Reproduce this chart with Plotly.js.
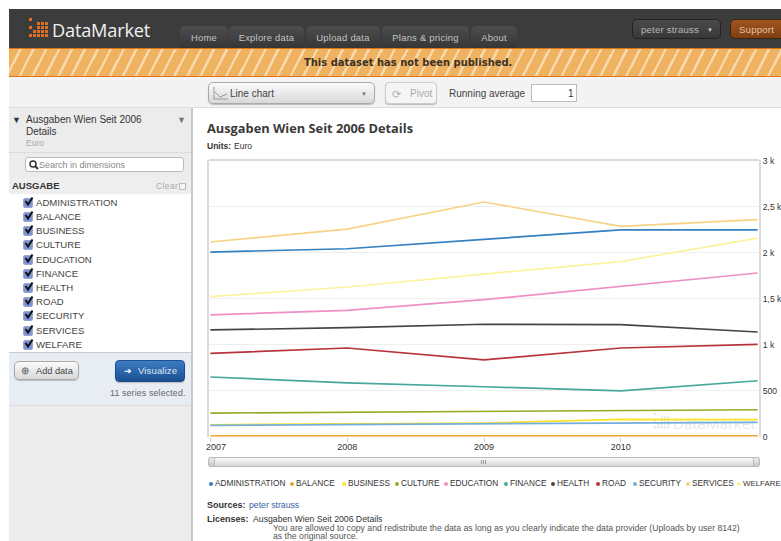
<!DOCTYPE html>
<html>
<head>
<meta charset="utf-8">
<title>Ausgaben Wien Seit 2006 Details</title>
<script src="https://cdn.plot.ly/plotly-3.0.1.min.js"></script>
<style>
html,body{margin:0;padding:0;background:#fff;width:781px;height:541px;overflow:hidden;font-family:"Liberation Sans",Arial,sans-serif;color:#333}
.a{position:absolute;white-space:nowrap}
.t{position:absolute;white-space:nowrap;line-height:12px}
#header{left:9px;top:9px;width:772px;height:39px;background:#3c3c3c}
.tab{position:absolute;top:26px;height:22px;border-radius:5px 5px 0 0;background:linear-gradient(#4d4d4d,#363636);color:#c4c4c4;font-size:9.4px;line-height:23px;text-align:center;letter-spacing:.25px}
#banner{left:9px;top:48px;width:772px;height:27px;border-top:1px solid #dd7412;border-bottom:2px solid #e2731a;background:repeating-linear-gradient(117deg,#efb261 0 9px,#f8d7a8 9px 11.5px)}
#toolbar{left:9px;top:77px;width:772px;height:30px;background:#f3f3f3;border-bottom:1px solid #dcdcdc}
.btn{position:absolute;box-sizing:border-box;border:1px solid #aaa;border-radius:4px;background:linear-gradient(#fbfbfb,#d8d8d8);box-shadow:0 1px 1px #bbb;font-size:10px}
#side{left:9px;top:108px;width:182px;height:433px;background:#ececec;border-right:2px solid #c8c8c8}
#chart{position:absolute;left:195px;top:150px;width:586px;height:320px}
.cb{position:absolute;left:23px;width:10px;height:10px;background:#7e93d6;border:1px solid #99a6d0;box-sizing:border-box;border-radius:2px}
.lg{font-size:8.3px;color:#333;display:inline-block;position:absolute;top:478px;line-height:11px}
.lg i{display:inline-block;width:4px;height:4px;border-radius:50%;position:absolute;left:-6px;top:4px}
</style>
</head>
<body>
<div class="a" id="header"></div>
<div class="a" id="banner"></div>
<div class="a" id="toolbar"></div>
<div class="a" id="side"></div>
<div class="a" style="left:9px;top:108px;width:182px;height:44px;border-bottom:1px dotted #ccc"></div>
<div class="a" style="left:9px;top:194px;width:182px;height:158px;background:#fff"></div>
<div class="a" style="left:9px;top:352px;width:182px;height:54px;background:#e8edf4;border-top:1px solid #ccc;border-bottom:1px solid #ddd;box-sizing:border-box"></div>
<div class="a" style="left:194px;top:108px;width:587px;height:433px;background:#fff"></div>
<div id="chrome"></div>
<div id="chart"></div>
<div id="legend"></div>
<script>
// Yearly spending per budget heading, in Euro
const years = [2007, 2008, 2009, 2010, 2011];
const tickYears = [2007, 2008, 2009, 2010];
const seriesNames = ["ADMINISTRATION","BALANCE","BUSINESS","CULTURE","EDUCATION","FINANCE","HEALTH","ROAD","SECURITY","SERVICES","WELFARE"];
const seriesColors = ["#3580c0","#eaa52a","#fbe32a","#8fae22","#ee8fc6","#46a79a","#454545","#b7343a","#74aede","#f6d285","#fdf2a0"];
const administration = [2005, 2041, 2143, 2245, 2245];
const balance = [8, 8, 8, 8, 8];
const business = [128, 136, 147, 187, 183];
const culture = [255, 266, 277, 285, 291];
const education = [1321, 1372, 1487, 1628, 1777];
const finance = [647, 582, 541, 495, 606];
const health = [1158, 1183, 1220, 1215, 1136];
const road = [904, 962, 832, 962, 1002];
const security = [122, 128, 139, 147, 154];
const services = [2114, 2255, 2549, 2285, 2357];
const welfare = [1520, 1625, 1766, 1900, 2157];
const seriesValues = [administration, balance, business, culture, education, finance, health, road, security, services, welfare];
const yTickValues = [0, 500, 1000, 1500, 2000, 2500, 3000];
const yTickLabels = ["0", "500", "1 k", "1,5 k", "2 k", "2,5 k", "3 k"];
const navItems = [["Home",180,48],["Explore data",229,75],["Upload data",306,74],["Plans & pricing",382,87],["About",471,46]];
const legendStarts = [215,296,348,401,450,510,557,602,639,692,743];

const chrome = document.getElementById('chrome');
function text(x, y, s, style) {
  const d = document.createElement('div');
  d.className = 't';
  d.style.cssText = `left:${x}px;top:${y - 6}px;` + (style || '');
  d.textContent = s;
  chrome.appendChild(d);
  return d;
}
function box(cls, x, y, w, h, style, s) {
  const d = document.createElement('div');
  d.className = cls;
  d.style.cssText = `left:${x}px;top:${y}px;width:${w}px;height:${h}px;` + (style || '');
  if (s) d.textContent = s;
  chrome.appendChild(d);
  return d;
}
// Square-grid brand mark
function mark(x, y, cell, color, parent) {
  const rows = ["#....", "..###", "#.###", ".####", "#####"];
  let svg = `<svg width="${cell*5}" height="${cell*5}" style="position:absolute;left:${x}px;top:${y}px">`;
  rows.forEach((r, j) => [...r].forEach((c, i) => {
    if (c === '#') svg += `<rect x="${i*cell}" y="${j*cell}" width="${cell-1}" height="${cell-1}" fill="${color}"/>`;
  }));
  const wrap = document.createElement('div');
  wrap.innerHTML = svg + '</svg>';
  (parent || chrome).appendChild(wrap);
}

// Top navigation
mark(29, 18, 4, '#dd6f22');
text(52, 30, 'DataMarket', 'font:18.2px/12px "Open Sans";color:#f1f1f1;letter-spacing:-.2px');
navItems.forEach(n => box('tab', n[1], 26, n[2], 22, '', n[0]).style.top = '26px');
box('btn', 632, 19, 89, 20, 'background:linear-gradient(#4b4b4b,#383838);border-color:#222;border-radius:5px;box-shadow:none');
text(641, 30, 'peter strauss', 'font-size:9.6px;color:#b8b8b8;letter-spacing:.2px');
text(707, 30, '▼', 'font-size:6px;color:#ccc');
box('btn', 730, 19, 56, 20, 'background:linear-gradient(#a0541f,#7f3f12);border-color:#3a2510;border-radius:5px;box-shadow:none');
text(739, 30, 'Support', 'font-size:9.6px;color:#e2c3a8;letter-spacing:.2px');
text(304, 63, 'This dataset has not been published.', 'font:bold 9.9px/12px "DejaVu Sans";color:#3a3226;letter-spacing:.05px');

// Toolbar
box('btn', 208, 82, 167, 22, 'border-radius:5px');
chrome.insertAdjacentHTML('beforeend', '<svg style="position:absolute;left:213px;top:86px" width="16" height="15"><path d="M1 1V13H15M2 6L7 11L14 8" fill="none" stroke="#999"/></svg>');
text(230, 94, 'Line chart', 'font-size:10px;color:#444');
text(361, 94, '▼', 'font-size:6px;color:#777');
box('btn', 385, 82, 52, 22, 'background:#f5f5f5;border-color:#ccc');
text(392, 94, '⟳', 'font-size:11px;color:#aaa');
text(410, 94, 'Pivot', 'font-size:10px;color:#aaa');
text(449, 94, 'Running average', 'font-size:10px;color:#444');
box('a', 531, 84, 46, 18, 'background:#fff;border:1px solid #bbb;box-sizing:border-box');
text(568, 94, '1', 'font-size:10px;color:#333');

// Dataset panel
text(12, 120, '▼', 'font-size:9px;color:#333');
text(26, 120, 'Ausgaben Wien Seit 2006', 'font-size:10px;color:#333');
text(26, 132, 'Details', 'font-size:10px;color:#333');
text(26, 142.5, 'Euro', 'font-size:8.5px;color:#aaa');
text(177, 120, '▼', 'font-size:9px;color:#777');
box('a', 25, 157, 159, 15, 'background:#fff;border:1px solid #bbb;border-radius:3px;box-sizing:border-box');
chrome.insertAdjacentHTML('beforeend', '<svg style="position:absolute;left:29px;top:160px" width="10" height="10"><circle cx="4" cy="4" r="3" fill="none" stroke="#333" stroke-width="1.5"/><path d="M6 6L9 9" stroke="#333" stroke-width="2"/></svg>');
text(39, 165, 'Search in dimensions', 'font-size:9px;color:#888');
box('a', 9, 177, 182, 17, 'background:#eee');
text(12, 186, 'AUSGABE', 'font-size:9.5px;font-weight:bold;color:#333');
text(156, 186, 'Clear', 'font-size:8.5px;color:#aaa;letter-spacing:.4px');
box('a', 179, 183, 7, 7, 'border:1px solid #bbb;box-sizing:border-box;background:#f5f5f5');
seriesNames.forEach((name, i) => {
  const y = 202.8 + i * 14.2;
  box('cb', 23, y - 5, 10, 10, `top:${y - 5}px`);
  chrome.insertAdjacentHTML('beforeend', `<svg style="position:absolute;left:23px;top:${y - 7}px" width="11" height="11"><path d="M2.5 5L5 8.5L9.5 1.5" fill="none" stroke="#111" stroke-width="2"/></svg>`);
  text(36, y, name, 'font-size:9.6px;color:#444');
});
box('btn', 14, 361, 65, 19, 'border-radius:5px');
text(21, 370.5, '⊕', 'font-size:10px;color:#555');
text(36, 370.5, 'Add data', 'font-size:9.2px;color:#444');
box('btn', 115, 360, 70, 22, 'background:linear-gradient(#3d7cc2,#1c4f92);border-color:#1c4f92;border-radius:4px');
text(124, 371, '➔', 'font-size:9px;color:#fff');
text(138, 371, 'Visualize', 'font-size:9.6px;color:#dfe8f4;letter-spacing:.1px');
text(110, 393, '11 series selected.', 'font-size:8.8px;color:#666;letter-spacing:.15px');

// Chart heading and footer
text(207, 128, 'Ausgaben Wien Seit 2006 Details', 'font:bold 12.8px/12px "Open Sans";color:#3a3a3a');
text(207, 146, 'Units:', 'font-size:8.5px;font-weight:bold;color:#333');
text(234, 146, 'Euro', 'font-size:8.5px;color:#333');
text(207, 505, 'Sources:', 'font-size:9px;font-weight:bold;color:#333');
text(249, 505, 'peter strauss', 'font-size:8.7px;color:#3762a8');
text(207, 519, 'Licenses:', 'font-size:9px;font-weight:bold;color:#333');
text(253, 519, 'Ausgaben Wien Seit 2006 Details', 'font-size:8.7px;color:#333');
text(273, 529.5, 'You are allowed to copy and redistribute the data as long as you clearly indicate the data provider (Uploads by user 8142)', 'font-size:8.7px;line-height:9px;color:#555');
text(273, 538, 'as the original source.', 'font-size:8.7px;line-height:9px;color:#555');

// Range scrollbar under the plot
box('a', 208, 457, 552, 10, 'background:linear-gradient(#fafafa,#d6d6d6);border:1px solid #bbb;border-radius:3px;box-sizing:border-box');
box('a', 208, 457, 7, 10, 'background:linear-gradient(#eee,#c8c8c8);border:1px solid #bbb;border-radius:3px 0 0 3px;box-sizing:border-box');
box('a', 753, 457, 7, 10, 'background:linear-gradient(#eee,#c8c8c8);border:1px solid #bbb;border-radius:0 3px 3px 0;box-sizing:border-box');
box('a', 481, 460, 1, 4, 'background:#999');
box('a', 483, 460, 1, 4, 'background:#999');
box('a', 485, 460, 1, 4, 'background:#999');

// Faint brand mark behind the plot
mark(654, 413, 3.3, '#e3e8e8');
text(673, 423, 'DataMarket', 'font:15px/12px "Open Sans";color:#e6eaea');

// Legend row built from the series list
const legend = document.getElementById('legend');
seriesNames.forEach((name, i) => {
  const s = document.createElement('span');
  s.className = 'lg';
  s.style.left = legendStarts[i] + 'px';
  if (i === seriesNames.length - 1) s.style.fontSize = '7.9px';
  s.innerHTML = `<i style="background:${seriesColors[i]}"></i>`;
  s.appendChild(document.createTextNode(name));
  legend.appendChild(s);
});

const traces = seriesNames.map((name, i) => ({
  x: years,
  y: seriesValues[i],
  name: name,
  type: 'scatter',
  mode: 'lines',
  line: {color: seriesColors[i], width: 1.7},
  hoverinfo: 'skip'
}));

const layout = {
  width: 586,
  height: 320,
  margin: {l: 14, r: 22, t: 10, b: 33},
  paper_bgcolor: 'rgba(0,0,0,0)',
  plot_bgcolor: 'rgba(0,0,0,0)',
  showlegend: false,
  font: {family: '"Liberation Sans", Arial, sans-serif', size: 9, color: '#333'},
  xaxis: {
    range: [2006.99, 2011.01],
    tickvals: tickYears,
    ticktext: ["", "2008", "2009", "2010"],
    ticks: 'outside',
    ticklen: 4,
    tickcolor: '#ccc',
    ticklabelstandoff: -3,
    showgrid: false,
    zeroline: false,
    showline: false,
    fixedrange: true
  },
  yaxis: {
    side: 'right',
    range: [-5.4, 3005.4],
    tickvals: yTickValues,
    ticktext: yTickLabels,
    tickfont: {size: 8.6},
    ticks: '',
    gridcolor: '#efefef',
    gridwidth: 1,
    zeroline: false,
    showline: true,
    mirror: true,
    linecolor: '#dcdcdc',
    linewidth: 2,
    fixedrange: true
  },
  shapes: [{type: 'line', xref: 'paper', yref: 'paper', x0: 0, x1: 1, y0: 1, y1: 1, line: {color: '#dcdcdc', width: 2}}],
  annotations: [{text: '2007', xref: 'x', yref: 'paper', x: 2007, y: 0, xanchor: 'center', yanchor: 'top', xshift: 6, yshift: -3, showarrow: false, font: {size: 9, color: '#333'}}]
};
Plotly.newPlot('chart', traces, layout, {displayModeBar: false, staticPlot: true});
</script>
</body>
</html>
